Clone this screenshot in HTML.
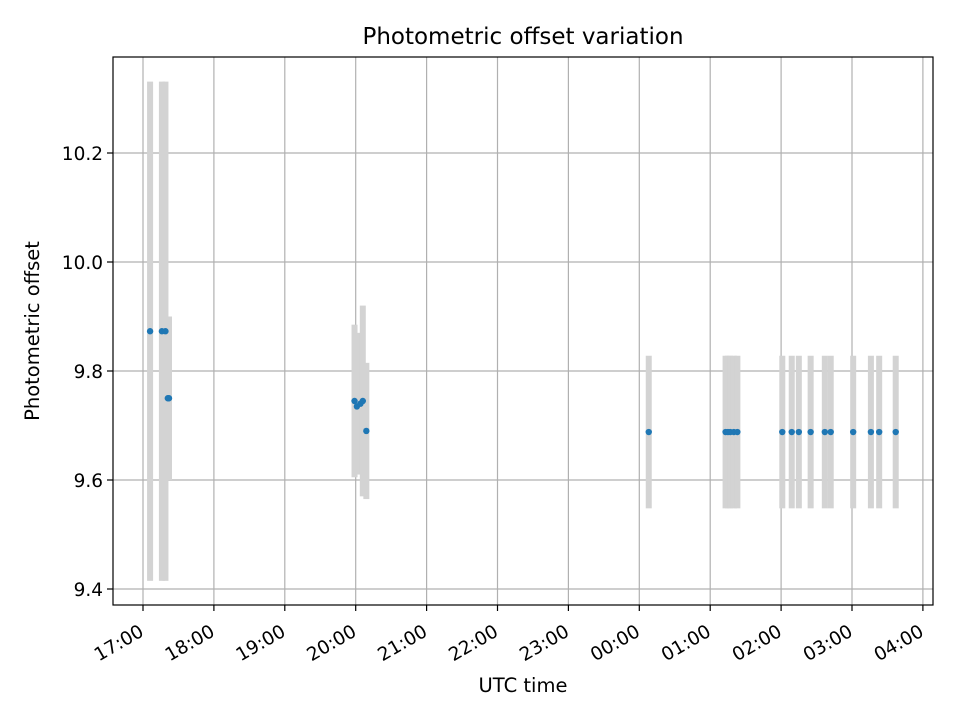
<!DOCTYPE html>
<html><head><meta charset="utf-8"><style>
body{margin:0;background:#fff}
svg text{font-family:"DejaVu Sans","Liberation Sans",sans-serif;fill:#000}
</style></head><body>
<svg id="chart" width="960" height="720" xmlns="http://www.w3.org/2000/svg">
<rect width="960" height="720" fill="#fff"/>
<g id="grid"></g><g id="errs"></g><g id="pts"></g><g id="axes"></g>
<text x="523" y="44" text-anchor="middle" font-size="23">Photometric offset variation</text>
<text x="523" y="692" text-anchor="middle" font-size="19.5">UTC time</text>
<text transform="translate(39,331) rotate(-90)" text-anchor="middle" font-size="19.5">Photometric offset</text>
</svg>
<script>
const times=["17:06","17:16","17:19","17:21","17:22","19:59","20:01","20:04","20:06","20:09","00:08","01:13","01:15","01:17","01:20","01:23","02:01","02:09","02:15","02:25","02:37","02:42","03:01","03:16","03:23","03:37"];
const values=[9.873,9.873,9.873,9.75,9.75,9.745,9.735,9.74,9.745,9.69,9.688,9.688,9.688,9.688,9.688,9.688,9.688,9.688,9.688,9.688,9.688,9.688,9.688,9.688,9.688,9.688];
const errors=[0.458,0.458,0.458,0.15,0.15,0.14,0.11,0.13,0.175,0.125,0.14,0.14,0.14,0.14,0.14,0.14,0.14,0.14,0.14,0.14,0.14,0.14,0.14,0.14,0.14,0.14];
const xTickLabels=["17:00","18:00","19:00","20:00","21:00","22:00","23:00","00:00","01:00","02:00","03:00","04:00"];
const yTicks=[9.4,9.6,9.8,10.0,10.2];
const L=113,R=933,T=57,B=605,NS="http://www.w3.org/2000/svg";
function hrs(s){let [h,m]=s.split(":").map(Number);if(h<12)h+=24;return h+m/60-17;}
function xs(h){return 143+h*70.9;}
function ys(v){return 589-(v-9.4)/0.2*109;}
function mk(tag,a,p){const e=document.createElementNS(NS,tag);for(const k in a)e.setAttribute(k,a[k]);p.appendChild(e);return e;}
const grid=document.getElementById('grid'),errs=document.getElementById('errs'),pts=document.getElementById('pts'),axes=document.getElementById('axes');
xTickLabels.forEach((lab,i)=>{const x=xs(i);
 const g=mk('line',{x1:x,x2:x,y1:T,y2:B,stroke:'#b0b0b0','stroke-width':1.2},grid);
 
 
 const t=mk('line',{x1:x,x2:x,y1:B,y2:B+6,stroke:'#000','stroke-width':1.2},axes);
 
 
 const tx=mk('text',{transform:`translate(${x+2},${B+30}) rotate(-30)`,'text-anchor':'end','font-size':18.5},axes);
 tx.textContent=lab;
 
 });
yTicks.forEach(v=>{const y=ys(v);
 const g=mk('line',{x1:L,x2:R,y1:y,y2:y,stroke:'#b0b0b0','stroke-width':1.2},grid);
 
 
 const t=mk('line',{x1:L-6,x2:L,y1:y,y2:y,stroke:'#000','stroke-width':1.2},axes);
 
 
 const tx=mk('text',{x:L-10,y:y+7,'text-anchor':'end','font-size':18.5},axes);
 tx.textContent=v.toFixed(1);
 
 });
times.forEach((s,i)=>{const x=xs(hrs(s));
 const e=mk('rect',{x:x-3,width:6,y:ys(values[i]+errors[i]),height:ys(values[i]-errors[i])-ys(values[i]+errors[i]),fill:'#d3d3d3'},errs);
 
 
 const c=mk('circle',{cx:x,cy:ys(values[i]),r:3.2,fill:'#1f77b4'},pts);
 
 });
const fr=mk('rect',{x:L,y:T,width:R-L,height:B-T,fill:'none',stroke:'#000','stroke-width':1.2},axes);


</script>
</body></html>
